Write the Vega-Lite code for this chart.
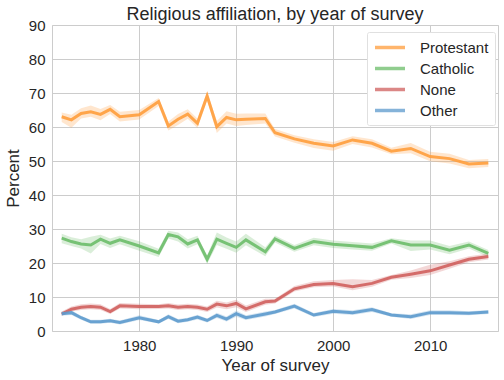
{
  "$schema": "https://vega.github.io/schema/vega-lite/v6.json",
  "width": 446,
  "height": 306,
  "autosize": {"type": "none"},
  "padding": {"left": 52, "top": 25, "right": 6, "bottom": 49},
  "background": "white",
  "title": {"text": "Religious affiliation, by year of survey", "fontSize": 18, "font": "Liberation Sans", "fontWeight": "normal", "color": "#262626", "anchor": "middle", "offset": -6},
  "data": {"values": [
    {"year": 1972, "religion": "Protestant", "pct": 63.0, "lo": 61.5, "hi": 64.3},
    {"year": 1973, "religion": "Protestant", "pct": 62.1, "lo": 59.8, "hi": 63.6},
    {"year": 1974, "religion": "Protestant", "pct": 64.0, "lo": 62.5, "hi": 65.5},
    {"year": 1975, "religion": "Protestant", "pct": 64.5, "lo": 63.0, "hi": 66.3},
    {"year": 1976, "religion": "Protestant", "pct": 63.7, "lo": 62.0, "hi": 65.3},
    {"year": 1977, "religion": "Protestant", "pct": 65.2, "lo": 63.8, "hi": 66.5},
    {"year": 1978, "religion": "Protestant", "pct": 63.0, "lo": 61.6, "hi": 64.5},
    {"year": 1980, "religion": "Protestant", "pct": 63.6, "lo": 62.2, "hi": 65.0},
    {"year": 1982, "religion": "Protestant", "pct": 67.5, "lo": 66.2, "hi": 68.5},
    {"year": 1983, "religion": "Protestant", "pct": 60.3, "lo": 59.0, "hi": 61.6},
    {"year": 1984, "religion": "Protestant", "pct": 62.3, "lo": 60.6, "hi": 63.8},
    {"year": 1985, "religion": "Protestant", "pct": 63.8, "lo": 62.4, "hi": 65.2},
    {"year": 1986, "religion": "Protestant", "pct": 61.1, "lo": 59.7, "hi": 62.5},
    {"year": 1987, "religion": "Protestant", "pct": 69.1, "lo": 67.8, "hi": 70.3},
    {"year": 1988, "religion": "Protestant", "pct": 60.1, "lo": 58.2, "hi": 61.8},
    {"year": 1989, "religion": "Protestant", "pct": 62.8, "lo": 61.0, "hi": 64.6},
    {"year": 1990, "religion": "Protestant", "pct": 62.1, "lo": 60.3, "hi": 63.9},
    {"year": 1991, "religion": "Protestant", "pct": 62.3, "lo": 60.6, "hi": 64.0},
    {"year": 1993, "religion": "Protestant", "pct": 62.5, "lo": 61.0, "hi": 64.0},
    {"year": 1994, "religion": "Protestant", "pct": 58.3, "lo": 57.2, "hi": 59.4},
    {"year": 1996, "religion": "Protestant", "pct": 56.5, "lo": 55.4, "hi": 57.6},
    {"year": 1998, "religion": "Protestant", "pct": 55.2, "lo": 53.8, "hi": 56.4},
    {"year": 2000, "religion": "Protestant", "pct": 54.4, "lo": 53.0, "hi": 55.6},
    {"year": 2002, "religion": "Protestant", "pct": 56.2, "lo": 55.0, "hi": 57.3},
    {"year": 2004, "religion": "Protestant", "pct": 55.2, "lo": 54.0, "hi": 56.4},
    {"year": 2006, "religion": "Protestant", "pct": 52.9, "lo": 52.0, "hi": 53.9},
    {"year": 2008, "religion": "Protestant", "pct": 53.7, "lo": 52.3, "hi": 55.3},
    {"year": 2010, "religion": "Protestant", "pct": 51.3, "lo": 49.9, "hi": 52.7},
    {"year": 2012, "religion": "Protestant", "pct": 50.7, "lo": 49.3, "hi": 52.1},
    {"year": 2014, "religion": "Protestant", "pct": 49.1, "lo": 47.9, "hi": 50.3},
    {"year": 2016, "religion": "Protestant", "pct": 49.4, "lo": 48.2, "hi": 50.6},
    {"year": 1972, "religion": "Catholic", "pct": 27.3, "lo": 25.8, "hi": 28.6},
    {"year": 1973, "religion": "Catholic", "pct": 26.3, "lo": 25.0, "hi": 27.6},
    {"year": 1974, "religion": "Catholic", "pct": 25.6, "lo": 24.3, "hi": 27.0},
    {"year": 1975, "religion": "Catholic", "pct": 25.3, "lo": 22.8, "hi": 27.7},
    {"year": 1976, "religion": "Catholic", "pct": 27.0, "lo": 25.6, "hi": 28.3},
    {"year": 1977, "religion": "Catholic", "pct": 25.8, "lo": 24.4, "hi": 27.2},
    {"year": 1978, "religion": "Catholic", "pct": 26.8, "lo": 25.5, "hi": 28.0},
    {"year": 1980, "religion": "Catholic", "pct": 25.0, "lo": 23.6, "hi": 26.4},
    {"year": 1982, "religion": "Catholic", "pct": 23.0, "lo": 21.8, "hi": 24.2},
    {"year": 1983, "religion": "Catholic", "pct": 28.4, "lo": 27.2, "hi": 29.5},
    {"year": 1984, "religion": "Catholic", "pct": 27.7, "lo": 26.3, "hi": 29.0},
    {"year": 1985, "religion": "Catholic", "pct": 25.6, "lo": 24.3, "hi": 27.0},
    {"year": 1986, "religion": "Catholic", "pct": 26.8, "lo": 25.5, "hi": 28.0},
    {"year": 1987, "religion": "Catholic", "pct": 21.1, "lo": 19.8, "hi": 22.3},
    {"year": 1988, "religion": "Catholic", "pct": 27.0, "lo": 25.3, "hi": 29.0},
    {"year": 1989, "religion": "Catholic", "pct": 25.8, "lo": 24.2, "hi": 27.5},
    {"year": 1990, "religion": "Catholic", "pct": 24.6, "lo": 23.0, "hi": 26.3},
    {"year": 1991, "religion": "Catholic", "pct": 26.8, "lo": 25.2, "hi": 28.6},
    {"year": 1993, "religion": "Catholic", "pct": 23.3, "lo": 22.0, "hi": 24.6},
    {"year": 1994, "religion": "Catholic", "pct": 27.1, "lo": 26.0, "hi": 28.1},
    {"year": 1996, "religion": "Catholic", "pct": 24.3, "lo": 23.3, "hi": 25.3},
    {"year": 1998, "religion": "Catholic", "pct": 26.3, "lo": 25.2, "hi": 27.4},
    {"year": 2000, "religion": "Catholic", "pct": 25.5, "lo": 24.4, "hi": 26.6},
    {"year": 2002, "religion": "Catholic", "pct": 25.1, "lo": 24.0, "hi": 26.2},
    {"year": 2004, "religion": "Catholic", "pct": 24.6, "lo": 23.6, "hi": 25.7},
    {"year": 2006, "religion": "Catholic", "pct": 26.5, "lo": 25.7, "hi": 27.3},
    {"year": 2008, "religion": "Catholic", "pct": 25.3, "lo": 23.5, "hi": 26.6},
    {"year": 2010, "religion": "Catholic", "pct": 25.3, "lo": 24.0, "hi": 26.6},
    {"year": 2012, "religion": "Catholic", "pct": 23.8, "lo": 22.6, "hi": 25.0},
    {"year": 2014, "religion": "Catholic", "pct": 25.3, "lo": 24.3, "hi": 26.3},
    {"year": 2016, "religion": "Catholic", "pct": 22.8, "lo": 21.8, "hi": 23.8},
    {"year": 1972, "religion": "None", "pct": 5.0, "lo": 4.4, "hi": 5.7},
    {"year": 1973, "religion": "None", "pct": 6.4, "lo": 5.7, "hi": 7.2},
    {"year": 1974, "religion": "None", "pct": 7.0, "lo": 6.2, "hi": 7.9},
    {"year": 1975, "religion": "None", "pct": 7.2, "lo": 6.4, "hi": 8.1},
    {"year": 1976, "religion": "None", "pct": 7.0, "lo": 6.2, "hi": 7.9},
    {"year": 1977, "religion": "None", "pct": 5.7, "lo": 5.0, "hi": 6.5},
    {"year": 1978, "religion": "None", "pct": 7.4, "lo": 6.6, "hi": 8.2},
    {"year": 1980, "religion": "None", "pct": 7.2, "lo": 6.4, "hi": 8.0},
    {"year": 1982, "religion": "None", "pct": 7.2, "lo": 6.5, "hi": 7.9},
    {"year": 1983, "religion": "None", "pct": 7.4, "lo": 6.6, "hi": 8.2},
    {"year": 1984, "religion": "None", "pct": 7.0, "lo": 6.2, "hi": 7.8},
    {"year": 1985, "religion": "None", "pct": 7.2, "lo": 6.4, "hi": 8.0},
    {"year": 1986, "religion": "None", "pct": 7.0, "lo": 6.2, "hi": 7.8},
    {"year": 1987, "religion": "None", "pct": 6.4, "lo": 5.6, "hi": 7.2},
    {"year": 1988, "religion": "None", "pct": 7.9, "lo": 6.9, "hi": 8.9},
    {"year": 1989, "religion": "None", "pct": 7.4, "lo": 6.4, "hi": 8.4},
    {"year": 1990, "religion": "None", "pct": 8.1, "lo": 7.0, "hi": 9.2},
    {"year": 1991, "religion": "None", "pct": 6.5, "lo": 5.6, "hi": 7.5},
    {"year": 1993, "religion": "None", "pct": 8.6, "lo": 7.7, "hi": 9.5},
    {"year": 1994, "religion": "None", "pct": 8.8, "lo": 8.1, "hi": 9.5},
    {"year": 1996, "religion": "None", "pct": 12.4, "lo": 11.6, "hi": 13.2},
    {"year": 1998, "religion": "None", "pct": 13.7, "lo": 12.9, "hi": 14.6},
    {"year": 2000, "religion": "None", "pct": 14.0, "lo": 13.1, "hi": 15.0},
    {"year": 2002, "religion": "None", "pct": 13.0, "lo": 12.0, "hi": 15.2},
    {"year": 2004, "religion": "None", "pct": 14.0, "lo": 13.0, "hi": 15.0},
    {"year": 2006, "religion": "None", "pct": 15.8, "lo": 15.1, "hi": 16.5},
    {"year": 2008, "religion": "None", "pct": 16.7, "lo": 15.6, "hi": 17.8},
    {"year": 2010, "religion": "None", "pct": 17.7, "lo": 16.5, "hi": 19.5},
    {"year": 2012, "religion": "None", "pct": 19.4, "lo": 18.3, "hi": 20.5},
    {"year": 2014, "religion": "None", "pct": 21.1, "lo": 20.2, "hi": 22.0},
    {"year": 2016, "religion": "None", "pct": 21.9, "lo": 21.0, "hi": 22.8},
    {"year": 1972, "religion": "Other", "pct": 5.1, "lo": 4.5, "hi": 5.8},
    {"year": 1973, "religion": "Other", "pct": 5.4, "lo": 4.7, "hi": 6.1},
    {"year": 1974, "religion": "Other", "pct": 3.9, "lo": 3.3, "hi": 4.5},
    {"year": 1975, "religion": "Other", "pct": 2.7, "lo": 2.1, "hi": 3.3},
    {"year": 1976, "religion": "Other", "pct": 2.7, "lo": 2.1, "hi": 3.3},
    {"year": 1977, "religion": "Other", "pct": 3.0, "lo": 2.4, "hi": 3.6},
    {"year": 1978, "religion": "Other", "pct": 2.5, "lo": 1.9, "hi": 3.1},
    {"year": 1980, "religion": "Other", "pct": 3.9, "lo": 3.2, "hi": 4.6},
    {"year": 1982, "religion": "Other", "pct": 2.7, "lo": 2.2, "hi": 3.2},
    {"year": 1983, "religion": "Other", "pct": 4.2, "lo": 3.5, "hi": 4.9},
    {"year": 1984, "religion": "Other", "pct": 2.9, "lo": 2.3, "hi": 3.5},
    {"year": 1985, "religion": "Other", "pct": 3.3, "lo": 2.7, "hi": 3.9},
    {"year": 1986, "religion": "Other", "pct": 4.1, "lo": 3.4, "hi": 4.8},
    {"year": 1987, "religion": "Other", "pct": 3.1, "lo": 2.5, "hi": 3.7},
    {"year": 1988, "religion": "Other", "pct": 4.6, "lo": 3.8, "hi": 5.4},
    {"year": 1989, "religion": "Other", "pct": 3.5, "lo": 2.8, "hi": 4.3},
    {"year": 1990, "religion": "Other", "pct": 5.1, "lo": 4.2, "hi": 6.0},
    {"year": 1991, "religion": "Other", "pct": 3.9, "lo": 3.2, "hi": 4.6},
    {"year": 1993, "religion": "Other", "pct": 5.0, "lo": 4.3, "hi": 5.7},
    {"year": 1994, "religion": "Other", "pct": 5.6, "lo": 5.0, "hi": 6.2},
    {"year": 1996, "religion": "Other", "pct": 7.3, "lo": 6.6, "hi": 8.0},
    {"year": 1998, "religion": "Other", "pct": 4.7, "lo": 4.1, "hi": 5.3},
    {"year": 2000, "religion": "Other", "pct": 5.8, "lo": 5.1, "hi": 6.5},
    {"year": 2002, "religion": "Other", "pct": 5.4, "lo": 4.7, "hi": 6.1},
    {"year": 2004, "religion": "Other", "pct": 6.3, "lo": 5.6, "hi": 7.0},
    {"year": 2006, "religion": "Other", "pct": 4.7, "lo": 4.2, "hi": 5.2},
    {"year": 2008, "religion": "Other", "pct": 4.2, "lo": 3.5, "hi": 4.9},
    {"year": 2010, "religion": "Other", "pct": 5.4, "lo": 4.7, "hi": 6.1},
    {"year": 2012, "religion": "Other", "pct": 5.4, "lo": 4.7, "hi": 6.1},
    {"year": 2014, "religion": "Other", "pct": 5.2, "lo": 4.6, "hi": 5.8},
    {"year": 2016, "religion": "Other", "pct": 5.6, "lo": 5.0, "hi": 6.2}
  ]},
  "encoding": {
    "x": {"field": "year", "type": "quantitative",
      "scale": {"domain": [1971, 2017], "nice": false, "zero": false},
      "axis": {"values": [1980, 1990, 2000, 2010], "format": "d", "title": "Year of survey"}},
    "color": {"field": "religion", "type": "nominal",
      "scale": {"domain": ["Protestant", "Catholic", "None", "Other"], "range": ["#ff9d3c", "#6bbd69", "#d0605e", "#5d9acd"]}}
  },
  "layer": [
    {
      "mark": {"type": "area", "opacity": 0.25},
      "encoding": {
        "y": {"field": "lo", "type": "quantitative",
          "scale": {"domain": [0, 90], "nice": false},
          "axis": {"values": [0, 10, 20, 30, 40, 50, 60, 70, 80, 90], "title": "Percent"}},
        "y2": {"field": "hi"}
      }
    },
    {
      "mark": {"type": "line", "strokeWidth": 3, "opacity": 0.9},
      "encoding": {
        "y": {"field": "pct", "type": "quantitative",
          "scale": {"domain": [0, 90], "nice": false},
          "axis": {"values": [0, 10, 20, 30, 40, 50, 60, 70, 80, 90], "title": "Percent"}}
      }
    }
  ],
  "config": {
    "font": "Liberation Sans",
    "view": {"stroke": "#cccccc", "strokeWidth": 1},
    "axis": {
      "domain": false, "ticks": false,
      "grid": true, "gridColor": "#cccccc", "gridWidth": 1,
      "labelFont": "Liberation Sans", "labelFontSize": 15, "labelColor": "#262626",
      "titleFont": "Liberation Sans", "titleFontSize": 17, "titleFontWeight": "normal", "titleColor": "#262626",
      "labelPadding": 7, "labelOverlap": false
    },
    "axisX": {"titlePadding": 4},
    "axisY": {"titlePadding": 6},
    "legend": {
      "orient": "none", "legendX": 315, "legendY": 7,
      "title": null,
      "fillColor": "white", "strokeColor": "#e0e0e0", "padding": 6,
      "symbolType": "M-1,0L3,0", "symbolSize": 225, "symbolStrokeWidth": 3.5, "symbolOpacity": 0.75,
      "labelFont": "Liberation Sans", "labelFontSize": 15, "labelColor": "#262626",
      "rowPadding": 3, "labelOffset": 28, "cornerRadius": 2
    }
  }
}
